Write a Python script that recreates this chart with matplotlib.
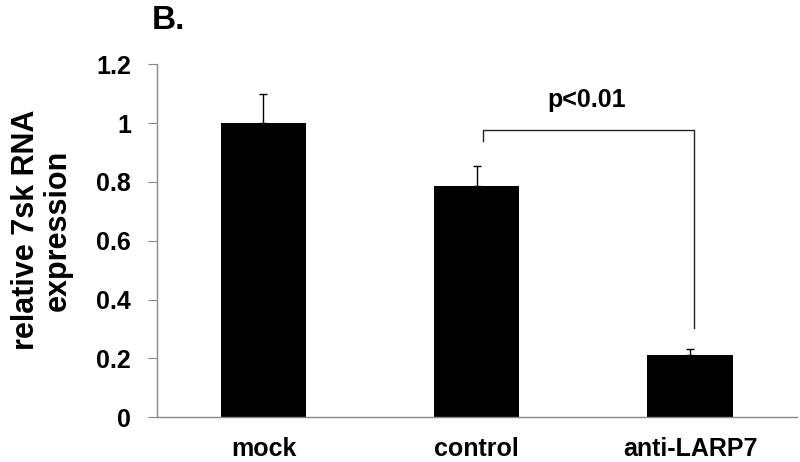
import matplotlib.pyplot as plt
import numpy as np

plt.rcParams['font.family'] = ['Liberation Sans', 'DejaVu Sans']
plt.rcParams['font.weight'] = 'bold'

categories = ['mock', 'control', 'anti-LARP7']
values = [1.0, 0.785, 0.212]
errors = [0.10, 0.068, 0.02]
yticks = [0, 0.2, 0.4, 0.6, 0.8, 1.0, 1.2]
ytick_labels = ['0', '0.2', '0.4', '0.6', '0.8', '1', '1.2']

fig = plt.figure(figsize=(8, 4.62), dpi=100)
ax = fig.add_axes([0.196, 0.097, 0.80, 0.764])

x = np.arange(len(categories))
ax.bar(x, values, width=0.4, color='black', zorder=2)
ax.errorbar(x, values, yerr=[np.zeros(len(errors)), errors], fmt='none',
            ecolor='black', elinewidth=1, capsize=3, capthick=1, zorder=1)

# significance bracket between control and anti-LARP7
bx1, bx2 = x[1] + 0.03, x[2] + 0.02
ax.plot([bx1, bx1, bx2, bx2], [0.938, 0.976, 0.976, 0.303],
        color='#222222', linewidth=1, clip_on=False)
ax.text((bx1 + bx2) / 2 - 0.01, 1.053, 'p<0.01', ha='center', va='baseline',
        fontsize=18, fontweight='bold')

ax.set_xlim(-0.5, 2.5)
ax.set_ylim(0, 1.2)
ax.set_yticks(yticks)
ax.set_yticklabels(ytick_labels)
ax.set_xticks(x)
ax.set_xticklabels(categories)
ax.tick_params(axis='x', length=0, pad=14, labelsize=18)
ax.tick_params(axis='y', length=6.5, color='#888888', pad=12, labelsize=18)

for side in ['top', 'right']:
    ax.spines[side].set_visible(False)
for side in ['left', 'bottom']:
    ax.spines[side].set_color('#888888')
    ax.spines[side].set_linewidth(1)

ax.set_ylabel('relative 7sk RNA\nexpression', fontsize=22, fontweight='bold',
              linespacing=1.05)
ax.yaxis.set_label_coords(-0.132, 0.53)
fig.text(0.19, 0.937, 'B.', fontsize=24, fontweight='bold', va='baseline')

fig.savefig('out.png', dpi=100)
